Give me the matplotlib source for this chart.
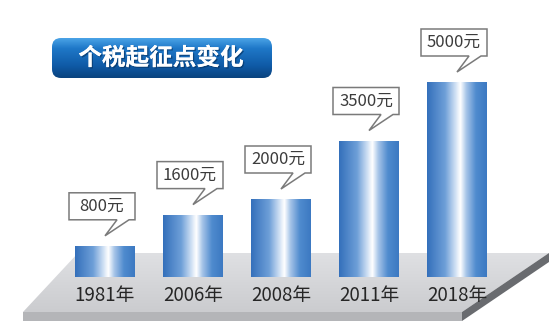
import matplotlib
matplotlib.use("Agg")
import matplotlib.pyplot as plt
import matplotlib.transforms as mtransforms
import matplotlib.patheffects as pe
from matplotlib.colors import LinearSegmentedColormap
from matplotlib.patches import Polygon, FancyBboxPatch
import numpy as np

plt.rcParams['font.family'] = ['Noto Sans CJK SC', 'DejaVu Sans']

# data
years = ["1981年", "2006年", "2008年", "2011年", "2018年"]
thresholds = [800, 1600, 2000, 3500, 5000]
value_labels = ["800元", "1600元", "2000元", "3500元", "5000元"]
title = "个税起征点变化"

W, H = 555, 321
fig = plt.figure(figsize=(W / 100, H / 100), dpi=100)
fig.patch.set_facecolor("white")

# background layer in pixel coords (floor + title badge)
bg = fig.add_axes([0, 0, 1, 1])
bg.set_xlim(0, W)
bg.set_ylim(H, 0)
bg.axis("off")

floor_top = Polygon([(78, 253), (549, 253), (462, 312), (23, 312)], closed=True,
                    fc="none", ec="none")
bg.add_patch(floor_top)
fgrad = np.linspace(0, 1, 64).reshape(-1, 1)
floor_cmap = LinearSegmentedColormap.from_list("floor", ["#dfe0e3", "#cbcccf"])
im = bg.imshow(fgrad, extent=[23, 549, 312, 253], aspect="auto", cmap=floor_cmap,
               origin="upper", zorder=1)
im.set_clip_path(floor_top)
bg.add_patch(Polygon([(23, 312), (462, 312), (462, 321), (23, 321)], closed=True,
                     fc="#b4b5b8", ec="none", zorder=2))
bg.add_patch(Polygon([(462, 312), (549, 253), (549, 262), (462, 321)], closed=True,
                     fc="#696b6f", ec="none", zorder=2))

# title badge
badge = FancyBboxPatch((52, 38), 220, 40, boxstyle="round,pad=0,rounding_size=9",
                       fc="none", ec="none")
bg.add_patch(badge)
tcmap = LinearSegmentedColormap.from_list(
    "title", [(0, "#4aa3e6"), (0.25, "#1f78c8"), (0.7, "#0f5aa6"), (1, "#0a437f")])
tim = bg.imshow(fgrad, extent=[52, 272, 78, 38], aspect="auto", cmap=tcmap,
                origin="upper", zorder=3)
tim.set_clip_path(badge)
bg.text(161, 58, title, color="white", fontsize=17, weight="bold",
        ha="center", va="center", zorder=4,
        path_effects=[pe.withSimplePatchShadow(offset=(1, -1), shadow_rgbFace="#06305c", alpha=0.6),
                      pe.Normal()])

# bar axes in data units
px_per_yuan = 0.039
ax = fig.add_axes([61 / W, (H - 277) / H, 440 / W, 277 / H])
ax.patch.set_alpha(0)
ax.axis("off")
x = np.arange(len(years))
bars = ax.bar(x, thresholds, width=0.68, color="none", edgecolor="none")

bar_cmap = LinearSegmentedColormap.from_list(
    "bar", [(0, "#3470bb"), (0.3, "#6e9fd8"), (0.48, "#d4e3f5"), (0.56, "#ffffff"),
            (0.66, "#a6c4e8"), (0.82, "#4f8bce"), (1, "#3c79c2")])
hgrad = np.linspace(0, 1, 128).reshape(1, -1)
for bar in bars:
    x0, y0 = bar.get_xy()
    bim = ax.imshow(hgrad, extent=[x0, x0 + bar.get_width(), y0, y0 + bar.get_height()],
                    aspect="auto", cmap=bar_cmap, zorder=2)
    bim.set_clip_path(bar)

ax.set_xlim(-0.5, len(years) - 0.5)
ax.set_ylim(0, 277 / px_per_yuan)

# callouts: box + tail, built in pixel offsets from each bar top
callout = [(-36, 26), (12, 26), (0, 10), (24, 26), (30, 26), (30, 53), (-36, 53)]
for i, v in enumerate(thresholds):
    tr = mtransforms.Affine2D() + mtransforms.ScaledTranslation(i, v, ax.transData)
    ax.add_patch(Polygon(callout, closed=True, fc="white", ec="#7a7a7a", lw=1.1,
                         transform=tr, clip_on=False, zorder=5))
    ax.annotate(value_labels[i], xy=(i, v), xytext=(-3, 39.5), textcoords="offset pixels",
                ha="center", va="center", fontsize=12, color="#3c3c3c",
                annotation_clip=False, zorder=6)
    ax.annotate(years[i], xy=(i, 0), xytext=(0, -18), textcoords="offset pixels",
                ha="center", va="center", fontsize=13.5, color="#262626",
                annotation_clip=False, zorder=6)

fig.savefig("out.png", dpi=100)
